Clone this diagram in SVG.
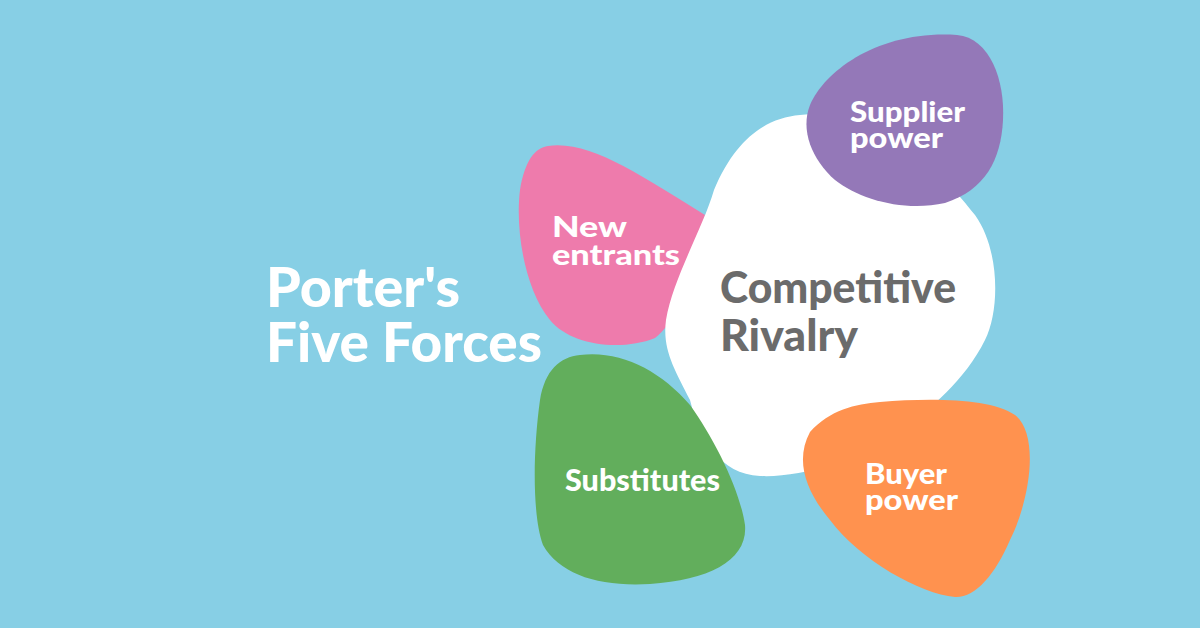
<svg xmlns="http://www.w3.org/2000/svg" width="1200" height="628" viewBox="0 0 1200 628">
<style>
.t{font-family:Lato,"DejaVu Sans",sans-serif;font-weight:900;fill:#ffffff}
.g{font-family:Lato,"DejaVu Sans",sans-serif;font-weight:900;fill:#6b6b6b}
</style>
<rect width="1200" height="628" fill="#87CFE5"/>
<g id="title">
<text class="t" font-size="56"><tspan x="266" y="307" textLength="194" lengthAdjust="spacingAndGlyphs">Porter's</tspan><tspan x="266" y="362" textLength="276" lengthAdjust="spacingAndGlyphs">Five Forces</tspan></text>
</g>
<g id="new-entrants">
<path d="M548,146 C590,140 640,175 705,215 C690,270 680,320 655,338 C620,352 570,345 550,320 C525,290 515,230 520,190 C525,160 535,148 548,146 Z" fill="#EE7BAC"/>
<text class="t" font-size="29"><tspan x="552" y="237" textLength="75" lengthAdjust="spacingAndGlyphs">New</tspan><tspan x="552" y="265" textLength="128" lengthAdjust="spacingAndGlyphs">entrants</tspan></text>
</g>
<g id="competitive-rivalry">
<path d="M800,115 C880,105 940,170 975,215 C1000,250 1000,310 985,340 C965,380 930,410 900,430 C860,460 800,478 760,476 C720,474 700,440 690,400 C675,370 662,350 666,320 C673,278 703,228 714,190 C735,140 765,118 800,115 Z" fill="#ffffff"/>
<text class="g" font-size="44"><tspan x="720" y="303" textLength="236" lengthAdjust="spacingAndGlyphs">Competitive</tspan><tspan x="720" y="351" textLength="138" lengthAdjust="spacingAndGlyphs">Rivalry</tspan></text>
</g>
<g id="supplier-power">
<path d="M957,35 C990,38 1005,80 1003,120 C1001,160 985,190 945,203 C905,212 860,200 835,180 C812,160 800,130 810,105 C825,70 880,30 957,35 Z" fill="#9478B8"/>
<text class="t" font-size="28"><tspan x="850" y="122" textLength="115" lengthAdjust="spacingAndGlyphs">Supplier</tspan><tspan x="850" y="148" textLength="93" lengthAdjust="spacingAndGlyphs">power</tspan></text>
</g>
<g id="substitutes">
<path d="M580,355 C620,350 660,370 690,405 C715,440 740,490 745,525 C748,560 710,580 650,584 C600,587 560,575 543,545 C532,515 533,450 540,400 C545,370 560,357 580,355 Z" fill="#62AE5C"/>
<text class="t" x="565" y="491" font-size="30" textLength="155" lengthAdjust="spacingAndGlyphs">Substitutes</text>
</g>
<g id="buyer-power">
<path d="M880,402 C930,398 990,398 1015,415 C1040,435 1030,500 1010,540 C995,575 975,598 955,597 C920,594 860,560 830,520 C805,490 795,460 810,432 C830,410 855,404 880,402 Z" fill="#FF924F"/>
<text class="t" font-size="28"><tspan x="865" y="484" textLength="82" lengthAdjust="spacingAndGlyphs">Buyer</tspan><tspan x="865" y="510" textLength="93" lengthAdjust="spacingAndGlyphs">power</tspan></text>
</g>
<g id="connectors"/>
</svg>
